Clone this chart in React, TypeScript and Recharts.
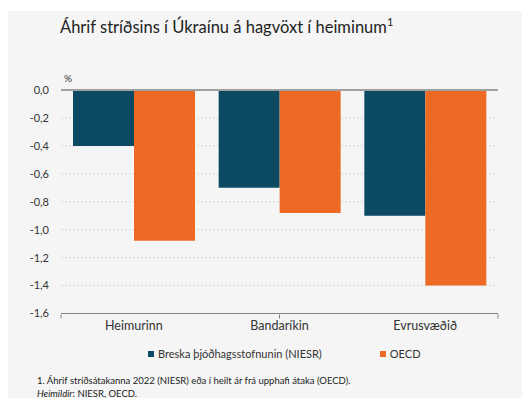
import { Bar, BarChart, CartesianGrid, Legend, ReferenceLine, XAxis, YAxis } from 'recharts';

const categories = ['Heimurinn', 'Bandaríkin', 'Evrusvæðið'];
const niesr = [-0.4, -0.7, -0.9];
const oecd = [-1.08, -0.88, -1.4];
const yTicks = [0, -0.2, -0.4, -0.6, -0.8, -1.0, -1.2, -1.4, -1.6];
const boundaryTicks = [0, 1, 2, 3];

const seriesNames = ['Breska þjóðhagsstofnunin (NIESR)', 'OECD'];
const colors = ['#0c4a63', '#ec6a24'];

const rows = categories.map((c, i) => ({ name: c, niesr: niesr[i], oecd: oecd[i] }));

const font = 'Lato, "Open Sans", sans-serif';

function LegendBox() {
  return (
    <div style={{ display: 'flex', fontFamily: font, fontSize: 11, color: '#333' }}>
      {seriesNames.map((n, i) => (
        <div key={n} style={{ display: 'flex', alignItems: 'center', marginRight: 58 }}>
          <span style={{ width: 6, height: 6, background: colors[i], marginRight: 4 }} />
          {n}
        </div>
      ))}
    </div>
  );
}

export default function App() {
  return (
    <div style={{ position: 'relative', top: 3, width: 522, height: 390, background: '#f5f5f5', fontFamily: font }}>
      <div style={{ position: 'absolute', left: 52, top: 4, fontSize: 16.5, color: '#222' }}>
        Áhrif stríðsins í Úkraínu á hagvöxt í heiminum<sup style={{ fontSize: 11 }}>1</sup>
      </div>
      <div style={{ position: 'absolute', left: 56, top: 61, fontSize: 10, color: '#333' }}>%</div>
      <div style={{ position: 'absolute', left: 0, top: 0 }}>
        <BarChart
          width={522}
          height={340}
          data={rows}
          margin={{ top: 79, right: 32, left: 0, bottom: 7.5 }}
          barCategoryGap={12}
          barGap={0}
        >
          <CartesianGrid horizontal vertical={false} stroke="#d4d4d4" strokeDasharray="2 2" />
          {/* category labels + the axis line, kept 1px tall so the boundary-tick axis sits right under it */}
          <XAxis
            dataKey="name"
            height={1}
            axisLine={{ stroke: '#808080' }}
            tickLine={false}
            tick={{ fontSize: 12.5, fill: '#333', fontFamily: font }}
          />
          <XAxis
            xAxisId="b"
            type="number"
            domain={[0, 3]}
            ticks={boundaryTicks}
            height={29}
            tickSize={4}
            tickFormatter={() => ''}
            axisLine={false}
            tickLine={{ stroke: '#808080' }}
            allowDataOverflow
          />
          <YAxis
            domain={[-1.6, 0]}
            ticks={yTicks}
            width={53}
            axisLine={false}
            tickLine={false}
            tickSize={6}
            tickMargin={6}
            tick={{ fontSize: 11, fill: '#333', fontFamily: font }}
            tickFormatter={(v: number) => v.toFixed(1).replace('.', ',')}
          />
          <Legend
            layout="horizontal"
            verticalAlign="middle"
            align="center"
            wrapperStyle={{ position: 'absolute', left: 140, top: 336, width: 'auto' }}
            content={() => <LegendBox />}
          />
          <Bar dataKey="niesr" name={seriesNames[0]} fill={colors[0]} isAnimationActive={false} />
          <Bar dataKey="oecd" name={seriesNames[1]} fill={colors[1]} isAnimationActive={false} />
          <ReferenceLine y={0} stroke="#a0a0a0" strokeWidth={2} />
        </BarChart>
      </div>
      <div style={{ position: 'absolute', left: 29, top: 363, fontSize: 9.5, color: '#222', lineHeight: '13px' }}>
        1. Áhrif stríðsátakanna 2022 (NIESR) eða í heilt ár frá upphafi átaka (OECD).
        <br />
        <i>Heimildir</i>: NIESR, OECD.
      </div>
    </div>
  );
}
